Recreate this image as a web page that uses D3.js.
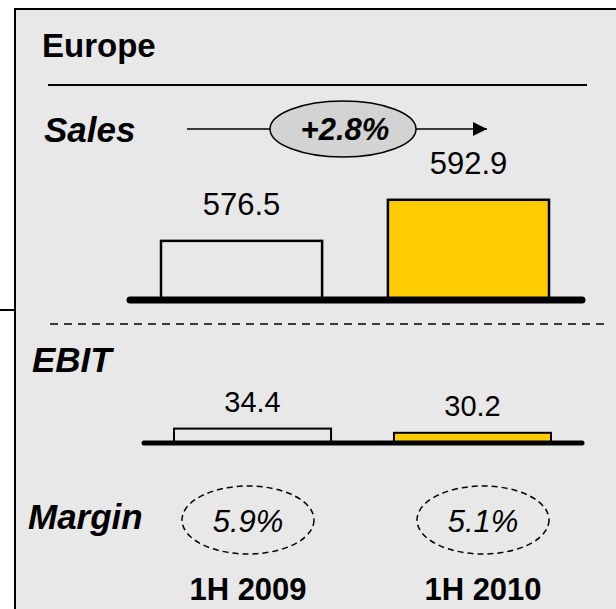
<!DOCTYPE html>
<meta charset="utf-8">
<style>
body { margin: 0; background: #fff; }
text { font-family: "Liberation Sans", Arial, sans-serif; fill: #000; }
.lbl { font-weight: bold; font-style: italic; font-size: 35px; }
.val { text-anchor: middle; }
</style>
<body>
<svg width="616" height="609"></svg>
<script src="https://d3js.org/d3.v7.min.js"></script>
<script>

var periods = ["1H 2009", "1H 2010"];
var sales = [576.5, 592.9];
var ebit = [34.4, 30.2];
var margin = ["5.9%", "5.1%"];
var growth = "+2.8%";
var region = "Europe";

var svg = d3.select("svg");
var colors = ["none", "#ffcc00"];

// panel
svg.append("rect")
    .attr("x", 15).attr("y", 9)
    .attr("width", 620).attr("height", 620)
    .attr("fill", "#e8e8e8")
    .attr("stroke", "#000")
    .attr("stroke-width", 2);

svg.append("line")
    .attr("x1", 0).attr("x2", 15)
    .attr("y1", 310).attr("y2", 310)
    .attr("stroke", "#000").attr("stroke-width", 2);

svg.append("text")
    .attr("x", 42).attr("y", 57)
    .style("font-weight", "bold")
    .style("font-size", "33px")
    .text(region);

svg.append("line")
    .attr("x1", 48).attr("x2", 587)
    .attr("y1", 85).attr("y2", 85)
    .attr("stroke", "#000").attr("stroke-width", 2);

// sales
svg.append("text").attr("class", "lbl")
    .attr("x", 44).attr("y", 142).text("Sales");

var defs = svg.append("defs");
defs.append("marker")
    .attr("id", "arrow")
    .attr("viewBox", "0 0 10 10")
    .attr("refX", 10).attr("refY", 5)
    .attr("markerWidth", 14).attr("markerHeight", 14)
    .attr("markerUnits", "userSpaceOnUse")
    .attr("orient", "auto")
  .append("path")
    .attr("d", "M0,0L10,5L0,10z");

svg.append("line")
    .attr("x1", 187).attr("x2", 487)
    .attr("y1", 129).attr("y2", 129)
    .attr("stroke", "#000").attr("stroke-width", 1.5)
    .attr("marker-end", "url(#arrow)");

svg.append("ellipse")
    .attr("cx", 343).attr("cy", 129)
    .attr("rx", 73).attr("ry", 28)
    .attr("fill", "#d3d3d3")
    .attr("stroke", "#000").attr("stroke-width", 1.5);

svg.append("text")
    .attr("x", 345).attr("y", 140)
    .attr("text-anchor", "middle")
    .style("font-weight", "bold").style("font-style", "italic")
    .style("font-size", "31px")
    .text(growth);

var xs = d3.scaleBand().domain(periods).range([161, 549]).paddingInner(0.29);
var ys = d3.scaleLinear().domain([552.9, 600]).range([300, 182]);

svg.selectAll(".sbar")
    .data(sales)
    .enter().append("rect")
    .attr("class", "sbar")
    .attr("x", function(d, i) { return xs(periods[i]); })
    .attr("y", function(d) { return ys(d); })
    .attr("width", xs.bandwidth())
    .attr("height", function(d) { return ys(552.9) - ys(d); })
    .attr("fill", function(d, i) { return colors[i]; })
    .attr("stroke", "#000").attr("stroke-width", 2.5);

svg.selectAll(".sval")
    .data(sales)
    .enter().append("text")
    .attr("class", "val")
    .style("font-size", "31px")
    .attr("x", function(d, i) { return xs(periods[i]) + xs.bandwidth() / 2; })
    .attr("y", function(d) { return ys(d) - 26; })
    .text(function(d) { return d.toFixed(1); });

svg.append("line")
    .attr("x1", 130).attr("x2", 582)
    .attr("y1", ys(552.9)).attr("y2", ys(552.9))
    .attr("stroke", "#000").attr("stroke-width", 7)
    .attr("stroke-linecap", "round");

svg.append("line")
    .attr("x1", 50).attr("x2", 604)
    .attr("y1", 324).attr("y2", 324)
    .attr("stroke", "#000").attr("stroke-width", 1.5)
    .attr("stroke-dasharray", "8,6");

// ebit
svg.append("text").attr("class", "lbl")
    .attr("x", 32).attr("y", 372).text("EBIT");

var xe = d3.scaleBand().domain(periods).range([174, 551]).paddingInner(0.286);
var ye = d3.scaleLinear().domain([20, 40]).range([443, 423]);

svg.selectAll(".ebar")
    .data(ebit)
    .enter().append("rect")
    .attr("class", "ebar")
    .attr("x", function(d, i) { return xe(periods[i]); })
    .attr("y", function(d) { return ye(d); })
    .attr("width", xe.bandwidth())
    .attr("height", function(d) { return ye(20) - ye(d); })
    .attr("fill", function(d, i) { return colors[i]; })
    .attr("stroke", "#000").attr("stroke-width", 2);

svg.selectAll(".eval")
    .data(ebit)
    .enter().append("text")
    .attr("class", "val")
    .style("font-size", "29px")
    .attr("x", function(d, i) { return xe(periods[i]) + xe.bandwidth() / 2; })
    .attr("y", function(d) { return ye(d) - 17; })
    .text(function(d) { return d.toFixed(1); });

svg.append("line")
    .attr("x1", 144).attr("x2", 582)
    .attr("y1", ye(20)).attr("y2", ye(20))
    .attr("stroke", "#000").attr("stroke-width", 5)
    .attr("stroke-linecap", "round");

// margin
svg.append("text").attr("class", "lbl")
    .attr("x", 28).attr("y", 529).text("Margin");

var xm = d3.scalePoint().domain(periods).range([248, 483]);

svg.selectAll(".mell")
    .data(margin)
    .enter().append("ellipse")
    .attr("cx", function(d, i) { return xm(periods[i]); })
    .attr("cy", 520)
    .attr("rx", 66).attr("ry", 34)
    .attr("fill", "none")
    .attr("stroke", "#000").attr("stroke-width", 1.5)
    .attr("stroke-dasharray", "6,4");

svg.selectAll(".mval")
    .data(margin)
    .enter().append("text")
    .attr("x", function(d, i) { return xm(periods[i]); })
    .attr("y", 532)
    .attr("text-anchor", "middle")
    .style("font-style", "italic")
    .style("font-size", "31px")
    .text(function(d) { return d; });

svg.selectAll(".per")
    .data(periods)
    .enter().append("text")
    .attr("x", function(d) { return xm(d); })
    .attr("y", 600)
    .attr("text-anchor", "middle")
    .style("font-weight", "bold")
    .style("font-size", "31px")
    .text(function(d) { return d; });

</script>
